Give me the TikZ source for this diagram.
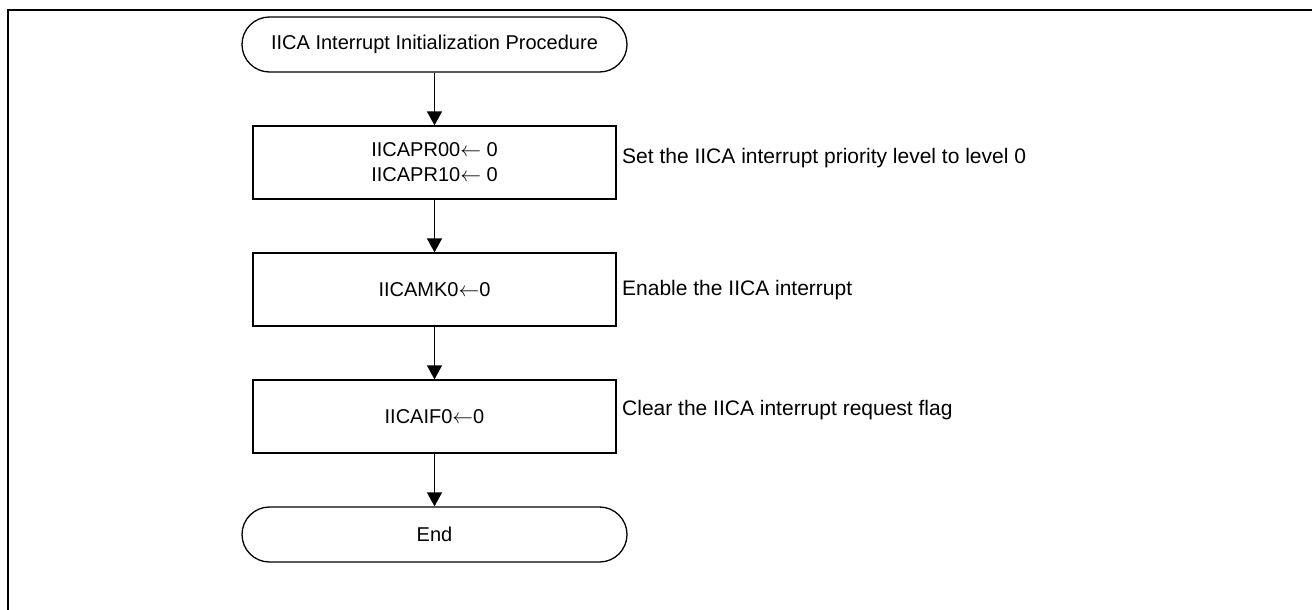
\documentclass[tikz,border=0pt]{standalone}
\usepackage{fontspec}
\setmainfont{Liberation Sans}
\usetikzlibrary{arrows.meta}
\newcommand{\larr}{\ensuremath{\leftarrow}}
\begin{document}
\begin{tikzpicture}[x=1pt,y=-1pt,
  every node/.style={font=\fontsize{20}{25}\selectfont},
  term/.style={draw,line width=1.3pt,rounded corners=27.5pt,minimum width=385pt,minimum height=55pt,inner sep=0pt},
  procbox/.style={draw,line width=1.3pt,minimum width=363pt,minimum height=73pt,inner sep=0pt,align=center},
  note/.style={anchor=base west,inner sep=0pt,font=\fontsize{21}{25}\selectfont},
  flow/.style={line width=1.3pt,-{Triangle[length=14pt,width=15pt]}}]
\useasboundingbox (0,0) rectangle (1312,610);
\draw[line width=2pt] (8,610) -- (8,10) -- (1312,10);
\node[term] (start) at (434.5,44.5) {IICA Interrupt Initialization Procedure};
\node[procbox] (b1) at (434.5,162.5) {IICAPR00\larr{} 0\\IICAPR10\larr{} 0};
\node[procbox] (b2) at (434.5,289.5) {IICAMK0\larr 0};
\node[procbox] (b3) at (434.5,416.5) {IICAIF0\larr 0};
\node[term] (end) at (434.5,534.5) {End};
\node[note] (n1) at (622,163) {Set the IICA interrupt priority level to level 0};
\node[note] (n2) at (622,295.5) {Enable the IICA interrupt};
\node[note] (n3) at (622,415.5) {Clear the IICA interrupt request flag};
\draw[flow] (start) -- (b1);
\draw[flow] (b1) -- (b2);
\draw[flow] (b2) -- (b3);
\draw[flow] (b3) -- (end);
\end{tikzpicture}
\end{document}
